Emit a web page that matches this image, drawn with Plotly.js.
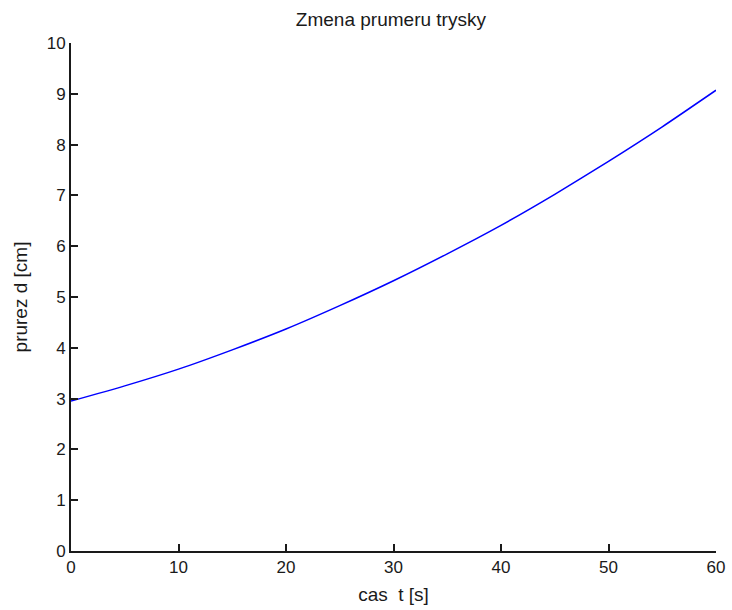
<!DOCTYPE html>
<html>
<head>
<meta charset="utf-8">
<script src="https://cdn.plot.ly/plotly-3.0.1.min.js"></script>
<style>
  html, body { margin: 0; padding: 0; background: #fff; }
  #chart { width: 732px; height: 610px; }
</style>
</head>
<body>
<div id="chart"></div>
<script>
// Time samples [s] and nozzle diameter [cm]
const casT = [0, 5, 10, 15, 20, 25, 30, 35, 40, 45, 50, 55, 60];
const prumerD = [2.95, 3.25, 3.58, 3.96, 4.37, 4.83, 5.32, 5.85, 6.41, 7.02, 7.67, 8.35, 9.07];

const xTicks = [0, 10, 20, 30, 40, 50, 60];
const yTicks = [0, 1, 2, 3, 4, 5, 6, 7, 8, 9, 10];

const family = '"Liberation Sans", Arial, sans-serif';
const ink = '#1a1a1a';
const tickFont = { family: family, size: 17, color: ink };
const labelFont = { family: family, size: 19, color: ink };

const trace = {
  x: casT,
  y: prumerD,
  type: 'scatter',
  mode: 'lines',
  line: { color: '#0000ff', width: 1.5, shape: 'spline', smoothing: 0.6 },
  hoverinfo: 'x+y'
};

const axisCommon = {
  showgrid: false,
  zeroline: false,
  showline: true,
  linecolor: ink,
  linewidth: 2,
  ticks: 'inside',
  ticklen: 7,
  tickwidth: 1.5,
  tickcolor: ink,
  tickfont: tickFont,
  automargin: false,
  mirror: false
};

const layout = {
  width: 732,
  height: 610,
  margin: { l: 71, r: 16, t: 43, b: 59 },
  paper_bgcolor: '#ffffff',
  plot_bgcolor: '#ffffff',
  font: tickFont,
  showlegend: false,
  title: {
    text: 'Zmena prumeru trysky',
    font: labelFont,
    x: 0.534,
    xanchor: 'center',
    y: 0.968,
    yanchor: 'middle'
  },
  xaxis: Object.assign({}, axisCommon, {
    range: [0, 60],
    tickmode: 'array',
    tickvals: xTicks,
    ticktext: xTicks.map(String),
    title: { text: 'cas \u00a0t [s]', font: labelFont, standoff: 11 }
  }),
  yaxis: Object.assign({}, axisCommon, {
    range: [0, 10],
    tickmode: 'array',
    tickvals: yTicks,
    ticktext: yTicks.map(String),
    title: { text: 'prurez d [cm]', font: labelFont, standoff: 14 }
  })
};

Plotly.newPlot('chart', [trace], layout, { displayModeBar: false });
</script>
</body>
</html>
